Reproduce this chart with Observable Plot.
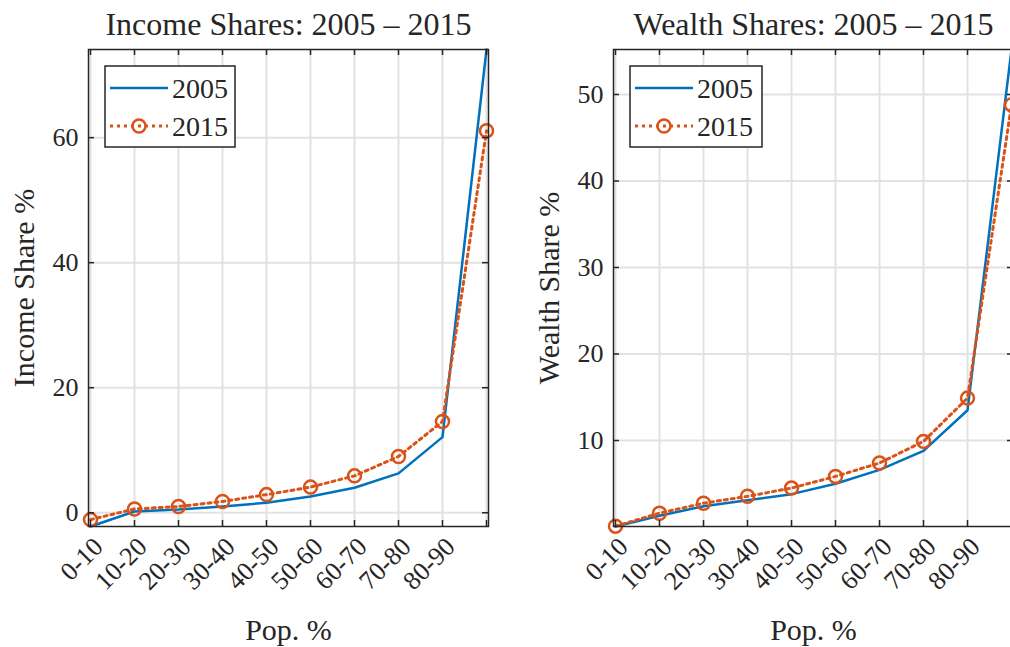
<!DOCTYPE html>
<html>
<head>
<meta charset="utf-8">
<script src="https://cdn.jsdelivr.net/npm/d3@7"></script>
<script src="https://cdn.jsdelivr.net/npm/@observablehq/plot@0.6"></script>
<style>
  html, body { margin: 0; padding: 0; background: #fff; overflow: hidden; }
  #wrap { position: relative; width: 1010px; height: 647px; overflow: hidden; }
  .panel { position: absolute; top: 0; }
  .panel text { font-family: 'Liberation Serif', 'Times New Roman', serif; }
  .legend { position: absolute; top: 0; }
</style>
</head>
<body>
<div id="wrap"></div>
<script>
// ---- data ----
const categories = ["0-10","10-20","20-30","30-40","40-50","50-60","60-70","70-80","80-90","90-100"];
const tickLabels = ["0-10","10-20","20-30","30-40","40-50","50-60","60-70","70-80","80-90"]; // last tick unlabeled
const seriesNames = ["2005", "2015"];
const income2005 = [-2.2, 0.2, 0.5, 1.0, 1.6, 2.6, 4.0, 6.3, 12.1, 74.1];
const income2015 = [-1.1, 0.6, 1.0, 1.8, 2.9, 4.1, 5.9, 9.0, 14.6, 61.1];
const wealth2005 = [0.06, 1.3, 2.4, 3.1, 3.8, 5.0, 6.6, 8.8, 13.5, 55.2];
const wealth2015 = [0.1, 1.6, 2.75, 3.55, 4.5, 5.85, 7.4, 9.9, 14.9, 48.8];
const incomeTicks = [0, 20, 40, 60];
const wealthTicks = [10, 20, 30, 40, 50];

const BLUE = "#0072BD", ORANGE = "#D95319", AX = "#262626", GRID = "#e2e2e2";
const FONT = "'Liberation Serif', 'Times New Roman', serif";

function panel({title, ylabel, s05, s15, yticks, left, width, marginLeft, ylabelDx}) {
  const marginRight = 17, marginTop = 49, marginBottom = 121, height = 647;
  const H = height - marginTop - marginBottom;
  const W = width - marginLeft - marginRight;
  const d05 = categories.map((c, i) => ({cat: c, v: s05[i]}));
  const d15 = categories.map((c, i) => ({cat: c, v: s15[i]}));
  const dom = d3.extent([...s05, ...s15]);
  const fmt = d => { const i = categories.indexOf(d); return i < tickLabels.length ? tickLabels[i] : ""; };
  const svg = Plot.plot({
    width, height, marginLeft, marginRight, marginTop, marginBottom,
    style: {fontFamily: FONT, fontSize: "26px", color: AX, background: "transparent", overflow: "visible"},
    x: {type: "point", domain: categories, padding: 0},
    y: {domain: dom},
    marks: [
      Plot.gridX(categories, {stroke: GRID, strokeOpacity: 1, strokeWidth: 2}),
      Plot.gridY(yticks, {stroke: GRID, strokeOpacity: 1, strokeWidth: 2}),
      Plot.line(d05, {x: "cat", y: "v", stroke: BLUE, strokeWidth: 2.5}),
      Plot.line(d15, {x: "cat", y: "v", stroke: ORANGE, strokeWidth: 3, strokeDasharray: "3,4"}),
      Plot.dot(d15, {x: "cat", y: "v", r: 6.5, stroke: ORANGE, strokeWidth: 2.5, fill: "none"}),
      Plot.tickX(categories, {x: d => d, insetTop: H - 6, stroke: AX, strokeWidth: 1.5}),
      Plot.tickX(categories, {x: d => d, insetBottom: H - 6, stroke: AX, strokeWidth: 1.5}),
      Plot.tickY(yticks, {y: d => d, insetRight: W - 6, stroke: AX, strokeWidth: 1.5}),
      Plot.tickY(yticks, {y: d => d, insetLeft: W - 6, stroke: AX, strokeWidth: 1.5}),
      Plot.frame({stroke: AX, strokeWidth: 1.5}),
      Plot.axisX({tickSize: 0, tickRotate: -45, tickPadding: 16, dx: 8, fontSize: 26, fontFamily: FONT, tickFormat: fmt, label: null}),
      Plot.axisY({ticks: yticks, tickSize: 0, tickPadding: 10, fontFamily: FONT, label: null}),
      Plot.text([title], {text: d => d, frameAnchor: "top", dy: -37, fontSize: 32, fontFamily: FONT, fill: AX}),
      Plot.text([ylabel], {text: d => d, frameAnchor: "left", textAnchor: "middle", dx: ylabelDx, rotate: -90, fontSize: 30, fontFamily: FONT, fill: AX}),
      Plot.text(["Pop. %"], {text: d => d, frameAnchor: "bottom", textAnchor: "middle", dy: 113, fontSize: 30, fontFamily: FONT, fill: AX})
    ]
  });
  svg.classList.add("panel");
  svg.style.left = left + "px";
  return svg;
}

function legend({x, y, w, h}) {
  const ns = "http://www.w3.org/2000/svg";
  const s = document.createElementNS(ns, "svg");
  s.setAttribute("class", "legend");
  s.setAttribute("width", w + 4); s.setAttribute("height", h + 4);
  s.style.left = (x - 2) + "px"; s.style.top = (y - 2) + "px";
  const mk = (tag, attrs) => { const e = document.createElementNS(ns, tag); for (const k in attrs) e.setAttribute(k, attrs[k]); s.appendChild(e); return e; };
  mk("rect", {x: 2, y: 2, width: w, height: h, fill: "#fff", stroke: AX, "stroke-width": 1.5});
  const rows = [22, 60];
  mk("line", {x1: 7, x2: 65, y1: rows[0] + 2, y2: rows[0] + 2, stroke: BLUE, "stroke-width": 2.5});
  mk("line", {x1: 7, x2: 65, y1: rows[1] + 2, y2: rows[1] + 2, stroke: ORANGE, "stroke-width": 3, "stroke-dasharray": "3,4"});
  mk("circle", {cx: 36, cy: rows[1] + 2, r: 6.5, fill: "none", stroke: ORANGE, "stroke-width": 2.5});
  seriesNames.forEach((t, i) => {
    const e = mk("text", {x: 69, y: rows[i] + 12, "font-size": 28, fill: AX});
    e.style.fontFamily = FONT;
    e.textContent = t;
  });
  return s;
}

const wrap = document.getElementById("wrap");
wrap.appendChild(panel({title: "Income Shares: 2005 – 2015", ylabel: "Income Share %", s05: income2005, s15: income2015, yticks: incomeTicks, left: 0, width: 505, marginLeft: 88, ylabelDx: -64}));
wrap.appendChild(panel({title: "Wealth Shares: 2005 – 2015", ylabel: "Wealth Share %", s05: wealth2005, s15: wealth2015, yticks: wealthTicks, left: 505, width: 525, marginLeft: 108, ylabelDx: -64}));
wrap.appendChild(legend({x: 105, y: 66, w: 130, h: 81}));
wrap.appendChild(legend({x: 630, y: 66, w: 132, h: 81}));
</script>
</body>
</html>
